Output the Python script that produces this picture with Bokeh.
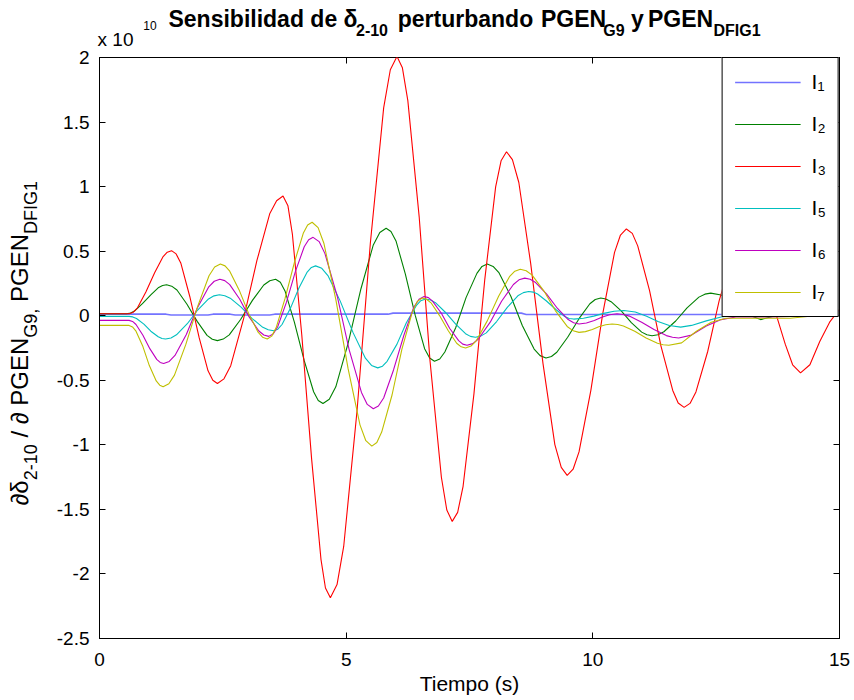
import math
from bokeh.plotting import figure
from bokeh.models import (Range1d, FixedTicker, LinearAxis, Legend, LegendItem,
                          CustomJSTickFormatter)
from bokeh.embed import file_html
from bokeh.resources import INLINE

# ---------------- data: (time s, value in units of 1e10) ----------------
I1 = [(0, 0.012), (1.35, 0.012), (1.45, 0.006), (2.2, 0.006), (2.3, 0.012), (2.65, 0.012),
      (2.75, 0.006), (3.45, 0.006), (3.55, 0.012), (5.85, 0.012), (5.95, 0.02), (8.55, 0.02),
      (8.65, 0.01), (15, 0.01)]

I2 = [(0, 0.015), (0.55, 0.015), (0.631, 0.021), (0.71, 0.036), (0.87, 0.093), (1.04, 0.162),
      (1.20, 0.219), (1.279, 0.234), (1.36, 0.240), (1.463, 0.229), (1.57, 0.199), (1.77, 0.091),
      (1.98, -0.044), (2.18, -0.152), (2.287, -0.182), (2.39, -0.193), (2.508, -0.181),
      (2.63, -0.148), (2.86, -0.029), (3.10, 0.119), (3.33, 0.238), (3.452, 0.271), (3.57, 0.283),
      (3.666, 0.259), (3.76, 0.192), (3.95, -0.049), (4.15, -0.348), (4.34, -0.589),
      (4.434, -0.656), (4.53, -0.680), (4.658, -0.647), (4.79, -0.551), (5.04, -0.212),
      (5.30, 0.209), (5.55, 0.548), (5.682, 0.644), (5.81, 0.677), (5.908, 0.652), (6.01, 0.579),
      (6.20, 0.322), (6.40, 0.002), (6.59, -0.255), (6.692, -0.328), (6.79, -0.353),
      (6.897, -0.335), (7.00, -0.281), (7.22, -0.093), (7.43, 0.140), (7.65, 0.328),
      (7.753, 0.382), (7.86, 0.400), (7.979, 0.382), (8.10, 0.331), (8.34, 0.149),
      (8.57, -0.076), (8.81, -0.258), (8.931, -0.309), (9.05, -0.327), (9.161, -0.316),
      (9.27, -0.283), (9.49, -0.167), (9.72, -0.023), (9.94, 0.093), (10.049, 0.126),
      (10.16, 0.137), (10.264, 0.130), (10.37, 0.109), (10.58, 0.036), (10.78, -0.054),
      (10.99, -0.127), (11.096, -0.148), (11.20, -0.155), (11.319, -0.147), (11.44, -0.124),
      (11.68, -0.041), (11.91, 0.061), (12.15, 0.144), (12.271, 0.167), (12.39, 0.175),
      (12.60, 0.160), (12.80, 0.120), (13.00, 0.060), (13.20, 0.000), (13.40, -0.030),
      (13.70, 0.000), (14.00, 0.060), (14.40, 0.090), (14.70, 0.070), (15.0, 0.030)]

I3 = [(0, 0.015), (0.6, 0.015), (0.686, 0.027), (0.77, 0.061), (0.94, 0.184), (1.12, 0.335),
      (1.29, 0.458), (1.374, 0.492), (1.46, 0.504), (1.553, 0.479), (1.65, 0.406), (1.83, 0.149),
      (2.02, -0.170), (2.20, -0.427), (2.297, -0.500), (2.39, -0.525), (2.523, -0.489),
      (2.66, -0.387), (2.92, -0.024), (3.19, 0.426), (3.45, 0.789), (3.59, 0.891), (3.72, 0.927),
      (3.82, 0.851), (3.91, 0.631), (4.10, -0.147), (4.30, -1.111), (4.49, -1.889),
      (4.58, -2.109), (4.68, -2.185), (4.815, -2.082), (4.95, -1.787), (5.22, -0.738),
      (5.49, 0.561), (5.76, 1.610), (5.895, 1.905), (6.03, 2.008), (6.14, 1.920), (6.25, 1.666),
      (6.48, 0.766), (6.70, -0.351), (6.93, -1.251), (7.04, -1.505), (7.15, -1.593),
      (7.26, -1.523), (7.37, -1.321), (7.59, -0.605), (7.81, 0.282), (8.03, 0.998),
      (8.14, 1.200), (8.25, 1.270), (8.37, 1.209), (8.50, 1.032), (8.74, 0.405), (8.99, -0.371),
      (9.23, -0.998), (9.36, -1.175), (9.48, -1.236), (9.60, -1.189), (9.72, -1.055),
      (9.96, -0.578), (10.20, 0.014), (10.44, 0.491), (10.56, 0.625), (10.68, 0.672),
      (10.80, 0.638), (10.91, 0.541), (11.15, 0.195), (11.38, -0.233), (11.62, -0.579),
      (11.73, -0.676), (11.85, -0.710), (11.97, -0.679), (12.09, -0.590), (12.33, -0.275),
      (12.56, 0.115), (12.80, 0.430), (12.92, 0.519), (13.04, 0.550), (13.16, 0.530),
      (13.30, 0.450), (13.50, 0.250), (13.74, -0.020), (13.90, -0.220), (14.05, -0.380),
      (14.21, -0.443), (14.40, -0.380), (14.60, -0.200), (14.80, -0.050), (15.0, 0.050)]

I5 = [(0, -0.005), (0.6, -0.005), (0.674, -0.009), (0.75, -0.022), (0.90, -0.065),
      (1.04, -0.120), (1.19, -0.163), (1.266, -0.176), (1.34, -0.180), (1.449, -0.172),
      (1.56, -0.148), (1.78, -0.062), (1.99, 0.044), (2.21, 0.130), (2.321, 0.154), (2.43, 0.162),
      (2.54, 0.155), (2.65, 0.136), (2.87, 0.066), (3.09, -0.020), (3.31, -0.090), (3.42, -0.109),
      (3.53, -0.116), (3.615, -0.104), (3.70, -0.068), (3.87, 0.057), (4.04, 0.213),
      (4.21, 0.338), (4.295, 0.374), (4.38, 0.386), (4.506, 0.367), (4.63, 0.311), (4.88, 0.113),
      (5.14, -0.131), (5.39, -0.329), (5.514, -0.385), (5.64, -0.404), (5.737, -0.391),
      (5.83, -0.353), (6.03, -0.220), (6.22, -0.055), (6.42, 0.078), (6.513, 0.116),
      (6.61, 0.129), (6.711, 0.122), (6.81, 0.101), (7.01, 0.027), (7.22, -0.065),
      (7.42, -0.139), (7.519, -0.160), (7.62, -0.167), (7.728, -0.158), (7.84, -0.133),
      (8.05, -0.045), (8.27, 0.066), (8.48, 0.154), (8.592, 0.179), (8.70, 0.188),
      (8.791, 0.183), (8.88, 0.168), (9.06, 0.114), (9.25, 0.048), (9.43, -0.006),
      (9.519, -0.021), (9.61, -0.026), (9.81, -0.020), (10.02, -0.003), (10.22, 0.018),
      (10.43, 0.035), (10.63, 0.041), (10.86, 0.029), (11.09, -0.004), (11.32, -0.044),
      (11.55, -0.076), (11.78, -0.088), (12.00, -0.075), (12.30, -0.040), (12.60, -0.010),
      (13.00, 0.005), (13.50, 0.000), (14.00, 0.000), (14.50, 0.015), (15.0, 0.030)]

I6 = [(0, -0.036), (0.6, -0.036), (0.67, -0.044), (0.74, -0.068), (0.88, -0.151),
      (1.02, -0.255), (1.16, -0.338), (1.23, -0.362), (1.30, -0.370), (1.414, -0.354),
      (1.53, -0.308), (1.76, -0.145), (1.98, 0.058), (2.21, 0.221), (2.326, 0.267), (2.44, 0.283),
      (2.539, 0.272), (2.64, 0.241), (2.84, 0.130), (3.03, -0.007), (3.23, -0.118),
      (3.331, -0.149), (3.43, -0.160), (3.52, -0.141), (3.61, -0.087), (3.79, 0.105),
      (3.97, 0.342), (4.15, 0.534), (4.24, 0.588), (4.33, 0.607), (4.452, 0.574), (4.57, 0.481),
      (4.82, 0.149), (5.06, -0.262), (5.31, -0.594), (5.428, -0.687), (5.55, -0.720),
      (5.653, -0.699), (5.76, -0.637), (5.96, -0.420), (6.17, -0.151), (6.37, 0.066),
      (6.477, 0.128), (6.58, 0.149), (6.667, 0.140), (6.75, 0.113), (6.93, 0.019),
      (7.10, -0.099), (7.28, -0.193), (7.363, -0.220), (7.45, -0.229), (7.567, -0.216),
      (7.68, -0.180), (7.92, -0.050), (8.15, 0.112), (8.39, 0.242), (8.503, 0.278),
      (8.62, 0.291), (8.73, 0.282), (8.84, 0.257), (9.06, 0.169), (9.28, 0.058), (9.50, -0.030),
      (9.61, -0.055), (9.72, -0.064), (9.87, -0.056), (10.03, -0.037), (10.18, -0.012),
      (10.34, 0.007), (10.49, 0.015), (10.615, 0.010), (10.74, -0.003), (10.99, -0.050),
      (11.24, -0.107), (11.49, -0.154), (11.615, -0.167), (11.74, -0.172), (12.00, -0.150),
      (12.30, -0.080), (12.60, -0.030), (12.90, -0.010), (13.20, -0.010), (13.60, -0.010),
      (14.00, -0.005), (14.50, 0.010), (15.0, 0.030)]

I7 = [(0, -0.075), (0.6, -0.075), (0.669, -0.087), (0.74, -0.120), (0.88, -0.239),
      (1.01, -0.386), (1.15, -0.505), (1.221, -0.538), (1.29, -0.550), (1.406, -0.527),
      (1.52, -0.460), (1.75, -0.222), (1.99, 0.072), (2.22, 0.310), (2.334, 0.377), (2.45, 0.400),
      (2.545, 0.386), (2.64, 0.345), (2.83, 0.200), (3.02, 0.020), (3.21, -0.125),
      (3.305, -0.166), (3.40, -0.180), (3.491, -0.158), (3.58, -0.094), (3.76, 0.132),
      (3.95, 0.412), (4.13, 0.638), (4.219, 0.702), (4.31, 0.724), (4.431, 0.682), (4.55, 0.559),
      (4.79, 0.126), (5.04, -0.412), (5.28, -0.845), (5.399, -0.968), (5.52, -1.010),
      (5.622, -0.982), (5.72, -0.901), (5.93, -0.614), (6.13, -0.259), (6.34, 0.028),
      (6.438, 0.109), (6.54, 0.137), (6.628, 0.128), (6.72, 0.100), (6.89, 0.003),
      (7.07, -0.116), (7.24, -0.213), (7.332, -0.241), (7.42, -0.250), (7.531, -0.235),
      (7.64, -0.192), (7.86, -0.040), (8.09, 0.150), (8.31, 0.302), (8.419, 0.345), (8.53, 0.360),
      (8.649, 0.348), (8.77, 0.314), (9.01, 0.191), (9.24, 0.040), (9.48, -0.083),
      (9.601, -0.117), (9.72, -0.129), (9.85, -0.123), (9.99, -0.107), (10.12, -0.086),
      (10.26, -0.070), (10.39, -0.064), (10.505, -0.068), (10.62, -0.080), (10.85, -0.121),
      (11.08, -0.172), (11.31, -0.213), (11.425, -0.225), (11.54, -0.229), (11.80, -0.210),
      (12.10, -0.120), (12.40, -0.050), (12.70, -0.020), (13.00, -0.020), (13.50, -0.020),
      (14.00, -0.020), (14.50, 0.000), (15.0, 0.020)]

series = [I1, I2, I3, I5, I6, I7]
series_labels = ["I\u2081", "I\u2082", "I\u2083", "I\u2085", "I\u2086", "I\u2087"]

x_ticks = [0, 5, 10, 15]
y_ticks = [-2.5, -2, -1.5, -1, -0.5, 0, 0.5, 1, 1.5, 2]

title_main = ["Sensibilidad de \u03b4", "perturbando", "PGEN", "y", "PGEN"]
title_subs = ["2-10", "G9", "DFIG1"]
xlabel = "Tiempo (s)"
ylabel_main = ["\u2202\u03b4", "/ \u2202 PGEN", "PGEN"]
ylabel_subs = ["2-10", "G9,", "DFIG1"]
exp_base = "x 10"
exp_pow = "10"

# ---------------- styling / layout ----------------
colors = ["#0000ff", "#008000", "#ff0000", "#00bfbf", "#bf00bf", "#bfbf00"]
widths = [1.6, 1.1, 1.1, 1.1, 1.1, 1.1]
alphas = [0.55, 1, 1, 1, 1, 1]
FONT = "Liberation Sans"
W, H = 854, 700
FL, FR, FT, FB = 99, 839, 57, 638
X0, X1, Y0, Y1 = 0, 15, -2.5, 2
K_H = 1.15    # assumed text-box height / font size
K_D = 0.212   # assumed descent / font size

# Arial-compatible advance widths (1/1000 em), regular
AW_R = {' ': 278, '/': 278, ',': 278, '-': 333, '.': 278, 'x': 500, 'P': 667, 'G': 778,
        'E': 667, 'N': 722, 'D': 722, 'F': 611, 'I': 278, '\u2202': 494, '\u03b4': 556}


def tw(s, size):
    return sum(AW_R.get(c, 556) for c in s) * size / 1000.0


def xd(px):
    return X0 + (px - FL) / (FR - FL) * (X1 - X0)


def yd(py):
    return Y1 - (py - FT) / (FB - FT) * (Y1 - Y0)


p = figure(width=W, height=H, x_range=Range1d(X0, X1), y_range=Range1d(Y0, Y1),
           output_backend="svg", toolbar_location=None,
           min_border_left=FL, min_border_right=W - FR, min_border_top=FT,
           min_border_bottom=H - FB, background_fill_color="white",
           border_fill_color="white")
p.grid.visible = False
p.outline_line_color = "black"
p.outline_line_width = 1
p.outline_line_alpha = 1

# bottom axis (ticks, labels, x label)
xa = p.xaxis[0]
xa.ticker = FixedTicker(ticks=x_ticks)
xa.formatter = CustomJSTickFormatter(code="return tick.toString();")
xa.major_tick_in = 6
xa.major_tick_out = 0
xa.minor_tick_line_color = None
xa.major_label_standoff = 14
xa.major_label_text_font = FONT
xa.major_label_text_font_size = "19px"
xa.major_label_text_color = "black"
xa.axis_line_color = "black"
xa.axis_label = xlabel
xa.axis_label_text_font = FONT
xa.axis_label_text_font_size = "21px"
xa.axis_label_text_font_style = "normal"
xa.axis_label_text_color = "black"
xa.axis_label_standoff = 3

# left axis (ticks + labels)
ya = p.yaxis[0]
ya.ticker = FixedTicker(ticks=y_ticks)
ya.formatter = CustomJSTickFormatter(code="return tick.toString();")
ya.major_tick_in = 6
ya.major_tick_out = 0
ya.minor_tick_line_color = None
ya.major_label_standoff = 10
ya.major_label_text_font = FONT
ya.major_label_text_font_size = "19px"
ya.major_label_text_color = "black"
ya.axis_line_color = "black"

# right axis: box ticks only
ra = LinearAxis(ticker=FixedTicker(ticks=[], minor_ticks=y_ticks), major_label_standoff=0,
                major_tick_in=0, major_tick_out=0, minor_tick_in=6, minor_tick_out=0,
                minor_tick_line_color="black", axis_line_color="black")
p.add_layout(ra, "right")


def text_axis(side, centers, labels, size, bold, standoff, minor=None, orient="horizontal"):
    ax = LinearAxis(
        ticker=FixedTicker(ticks=list(centers), minor_ticks=list(minor or [])),
        formatter=CustomJSTickFormatter(args=dict(labels=list(labels)),
                                        code="return labels[index];"),
        major_label_standoff=int(round(standoff)), major_label_orientation=orient,
        major_label_text_font=FONT, major_label_text_font_size=f"{size}px",
        major_label_text_font_style="bold" if bold else "normal",
        major_label_text_color="black",
        major_tick_line_color=None, major_tick_in=0, major_tick_out=0,
        minor_tick_in=6 if minor else 0, minor_tick_out=0,
        minor_tick_line_color="black" if minor else None,
        axis_line_color=None)
    p.add_layout(ax, side)
    return ax


# ---- top rows: texts centred on their place in the reference, stacked outward ----
top_rows = [
    # (centre px list, labels, size, bold, baseline px, minor ticks)
    ([115], [exp_base], 19, False, 45, x_ticks),
    ([371.5, 613.5, 736.5], title_subs, 16, True, 37, None),
    ([149.5], [exp_pow], 12, False, 30, None),
    ([262.5, 465, 573, 637, 680], title_main, 23, True, 28, None),
]
line = FT
for centres, labels, size, bold, base, minor in top_rows:
    s = round(line - (base + K_D * size))
    text_axis("above", [xd(c) for c in centres], labels, size, bold, s, minor)
    line -= s + K_H * size

# ---- left rows: rotated y label pieces ----
MAIN, SUB = 24, 18
pos = 505.0
main_c, sub_c = [], []
seq = [("m", 0, 0), ("s", 0, 0), ("m", 1, 1), ("s", 1, 0), ("m", 2, 1), ("s", 2, 0)]
for kind, idx, lead in seq:
    pos -= lead * AW_R[' '] * MAIN / 1000.0
    if kind == "m":
        w = tw(ylabel_main[idx], MAIN)
        main_c.append(yd(pos - w / 2))
    else:
        w = tw(ylabel_subs[idx], SUB)
        sub_c.append(yd(pos - w / 2))
    pos -= w

line_x = FL - (10 + tw("-2.5", 19))
s_sub = line_x - (40 + K_D * SUB)
text_axis("left", sub_c, ylabel_subs, SUB, False, s_sub, orient="parallel")
line_x -= round(s_sub) + K_H * SUB
s_main = line_x - (33 + K_D * MAIN)
text_axis("left", main_c, ylabel_main, MAIN, False, s_main, orient="parallel")

# ---- curves ----
renderers = []
for pts, c, w, a in zip(series, colors, widths, alphas):
    r = p.line([q[0] for q in pts], [q[1] for q in pts], line_color=c, line_width=w,
               line_alpha=a)
    renderers.append(r)

legend = Legend(items=[LegendItem(label=lbl, renderers=[r])
                       for lbl, r in zip(series_labels, renderers)],
                location="top_right", margin=0, padding=12, spacing=18,
                glyph_width=66, glyph_height=24, label_height=24, label_width=12,
                label_standoff=11, label_text_font=FONT, label_text_font_size="21px",
                label_text_color="black",
                border_line_color="black", border_line_width=1, border_line_alpha=1,
                background_fill_color="white", background_fill_alpha=1)
p.add_layout(legend, "center")

open("out.html", "w").write(file_html(p, INLINE))
